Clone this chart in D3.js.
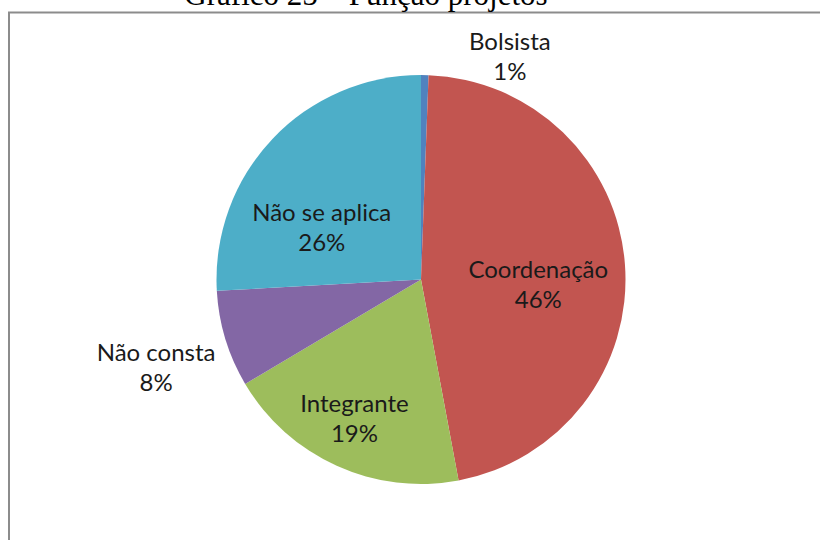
<!DOCTYPE html>
<html>
<head>
<meta charset="utf-8">
<script src="https://cdn.jsdelivr.net/npm/d3@7"></script>
<style>
  html, body { margin: 0; padding: 0; background: #fff; }
  svg { display: block; }
</style>
</head>
<body>
<svg id="chart" width="820" height="540"></svg>
<script>
// ---- data ----
const categories = ["Bolsista", "Coordenação", "Integrante", "Não consta", "Não se aplica"];
const counts     = [1, 79, 33, 13, 44];
const colors     = ["#5082BE", "#C25550", "#9DBD5C", "#8367A5", "#4DAEC8"];
const title      = "Gráfico 25 – Função projetos";

// ---- layout ----
const W = 820, H = 540;
const cx = 421, cy = 279.5, R = 204.5;
const svg = d3.select("#chart");

// frame
svg.append("rect")
  .attr("x", 9).attr("y", 12.5)
  .attr("width", 900).attr("height", 700)
  .attr("fill", "none").attr("stroke", "#8c8c8c").attr("stroke-width", 2);

// title (partially cut off at top, as in the source)
svg.append("text")
  .attr("x", 366).attr("y", 5)
  .attr("text-anchor", "middle")
  .attr("font-family", "'Liberation Serif', 'Times New Roman', serif")
  .attr("font-size", 31)
  .attr("fill", "#000")
  .text(title);

const data = categories.map((c, i) => ({ cat: c, value: counts[i], color: colors[i] }));
const total = d3.sum(counts);

const pie = d3.pie().value(d => d.value).sort(null);
const arcs = pie(data);
const arc = d3.arc().innerRadius(0).outerRadius(R);

const g = svg.append("g").attr("transform", `translate(${cx},${cy})`);
g.selectAll("path.slice")
  .data(arcs)
  .enter().append("path")
  .attr("class", "slice")
  .attr("d", arc)
  .attr("fill", d => d.data.color);

// label placement (Excel "best fit"): angle (deg, clockwise from top) and radius factor
const labelPlacement = {
  "Bolsista":      { ang: 22,  rf: 1.16 },
  "Coordenação":   { ang: 94,  rf: 0.575 },
  "Integrante":    { ang: 205, rf: 0.77 },
  "Não consta":    { ang: 251, rf: 1.37 },
  "Não se aplica": { ang: 296, rf: 0.54 }
};
const fmt = v => Math.round(v / total * 100) + "%";
const lineH = 30;

const labels = g.selectAll("g.lab")
  .data(arcs)
  .enter().append("g")
  .attr("class", "lab")
  .attr("transform", d => {
    const p = labelPlacement[d.data.cat];
    const a = p.ang * Math.PI / 180;
    const r = p.rf * R;
    return `translate(${r * Math.sin(a)},${-r * Math.cos(a)})`;
  });

labels.append("text")
  .attr("text-anchor", "middle")
  .attr("font-family", "Lato, 'Open Sans', sans-serif")
  .attr("font-size", 24)
  .attr("fill", "#1a1a1a")
  .each(function(d) {
    const t = d3.select(this);
    t.append("tspan").attr("x", 0).attr("y", -lineH / 2 + 5).text(d.data.cat);
    t.append("tspan").attr("x", 0).attr("y", lineH / 2 + 5).text(fmt(d.data.value));
  });
</script>
</body>
</html>
